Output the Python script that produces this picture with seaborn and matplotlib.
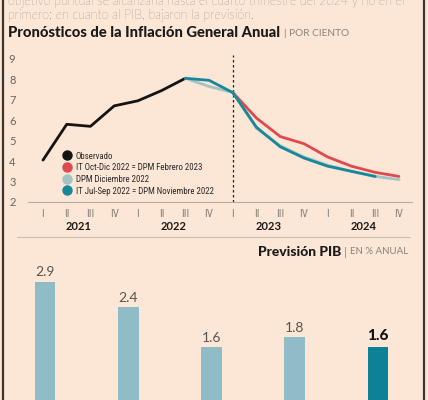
import matplotlib
matplotlib.use("Agg")
import numpy as np
import pandas as pd
import seaborn as sns
from matplotlib import pyplot as plt
from matplotlib import font_manager
from matplotlib.font_manager import FontProperties
from matplotlib.lines import Line2D


QUARTERS = ["I", "II", "III", "IV"] * 4
YEARS = ["2021", "2022", "2023", "2024"]

OBSERVADO = [4.05, 5.8, 5.7, 6.7, 6.95, 7.45, 8.05]
IT_OCT_DIC = [7.35, 6.1, 5.2, 4.85, 4.2, 3.75, 3.45, 3.25]
DPM_DIC = [8.05, 7.65, 7.35, 5.6, 4.75, 4.2, 3.8, 3.5, 3.25, 3.1]
IT_JUL_SEP = [8.05, 7.95, 7.35, 5.65, 4.7, 4.15, 3.75, 3.5, 3.25]

SERIES = [
    ("Observado", 0, OBSERVADO, "#141414"),
    ("IT Oct-Dic 2022 = DPM Febrero 2023", 8, IT_OCT_DIC, "#e04a4e"),
    ("DPM Diciembre 2022", 6, DPM_DIC, "#a3c3c4"),
    ("IT Jul-Sep 2022 = DPM Noviembre 2022", 6, IT_JUL_SEP, "#17879a"),
]

PIB_VALUES = [2.9, 2.4, 1.6, 1.8, 1.6]
PIB_LABELS = ["2.9", "2.4", "1.6", "1.8", "1.6"]
PIB_COLORS = ["#8fbcc6", "#8fbcc6", "#8fbcc6", "#8fbcc6", "#0d8196"]

BG = "#fce6d5"
GREY_TXT = "#6a6560"


def pick(*names):
    have = {f.name for f in font_manager.fontManager.ttflist}
    for n in names:
        if n in have:
            return n
    return "DejaVu Sans"


def narrow_props(size):
    # look for any condensed face among the installed fonts
    order = ["Roboto", "Noto Sans", "Open Sans", "DejaVu Sans", "Liberation Sans Narrow"]
    cands = []
    for f in font_manager.fontManager.ttflist:
        st = str(f.stretch).lower()
        cond = st in ("condensed", "semi-condensed", "extra-condensed") or (
            isinstance(f.stretch, int) and f.stretch < 500) or "Narrow" in f.name or "Condensed" in f.name
        if cond and f.style == "normal" and f.weight in (400, "normal", "regular"):
            rank = next((i for i, n in enumerate(order) if f.name.startswith(n)), len(order))
            cands.append((rank, f.fname))
    if cands:
        cands.sort()
        return FontProperties(fname=cands[0][1], size=size)
    return FontProperties(family=pick("Roboto", "DejaVu Sans"), size=size)


def main():
    sns.set_theme(style="white")
    plt.rcParams.update({"figure.facecolor": BG, "axes.facecolor": "none", "savefig.facecolor": BG})
    body = pick("Lato", "Open Sans")
    plt.rcParams["font.family"] = [body, "DejaVu Sans"]

    fig = plt.figure(figsize=(4.28, 4.0), dpi=100)
    W, H = 428.0, 400.0

    def fx(px):
        return px / W

    def fy(py):
        return 1 - py / H

    # top body text (cut by the crop, as in the source)
    fig.text(fx(8), fy(1.5), "objetivo puntual se alcanzaría hasta el cuarto trimestre del 2024 y no en el",
             fontsize=9.0, color="#46413c", va="center", ha="left", fontweight="light")
    fig.text(fx(8), fy(15), "primero; en cuanto al PIB, bajaron la previsión.",
             fontsize=9.0, color="#46413c", va="center", ha="left", fontweight="light")

    # title
    t = fig.text(fx(8), fy(33), "Pronósticos de la Inflación General Anual",
                 fontsize=10.6, fontweight="black", color="#1a1a1a", va="center", ha="left")
    fig.canvas.draw()
    bb = t.get_window_extent()
    fig.text(bb.x1 / W + fx(4), fy(33), "| POR CIENTO", fontsize=7.3, color="#8a837c",
             va="center", ha="left")

    # line chart
    rows = []
    for name, start, vals, _ in SERIES:
        for i, v in enumerate(vals):
            rows.append({"serie": name, "t": start + i, "valor": v})
    df = pd.DataFrame(rows)
    palette = {name: c for name, _, _, c in SERIES}

    ax = fig.add_axes([fx(28), fy(202), fx(412) - fx(28), (202 - 55) / H])
    ax.axvline(8, color="#222222", lw=0.9, ls=(0, (2, 2)), zorder=1)
    sns.lineplot(df, x="t", y="valor", hue="serie", hue_order=[s[0] for s in SERIES],
                 palette=palette, linewidth=2.0, legend=False, ax=ax, zorder=3)
    ax.set_xlim((28 - 43) / 23.73, (412 - 43) / 23.73)
    ax.set_ylim(2, 2 + (202 - 55) / 20.45)
    ax.set_yticks(range(2, 10))
    ax.set_yticklabels([str(v) for v in range(2, 10)])
    ax.set_xticks(range(len(QUARTERS)))
    ax.set_xticklabels(QUARTERS)
    ax.tick_params(axis="both", length=0, colors=GREY_TXT, labelsize=8)
    ax.tick_params(axis="y", pad=9)
    ax.tick_params(axis="x", pad=5)
    tick_fp = narrow_props(8)
    for lbl in ax.get_xticklabels():
        lbl.set_fontproperties(tick_fp)
        lbl.set_color("#8a837c")
    for s in ["top", "right", "left"]:
        ax.spines[s].set_visible(False)
    ax.spines["bottom"].set_color("#b5aca3")
    ax.spines["bottom"].set_linewidth(0.8)
    ax.set_xlabel("")
    ax.set_ylabel("")
    for k, yr in enumerate(YEARS):
        ax.text(4 * k + 1.5, -0.17, yr, transform=ax.get_xaxis_transform(), ha="center", va="center",
                fontsize=8, fontweight="bold", color="#1a1a1a")

    handles = [Line2D([], [], marker="o", ls="none", color=c, markersize=6.5) for _, _, _, c in SERIES]
    leg = ax.legend(handles, [s[0] for s in SERIES], loc="lower left", bbox_to_anchor=(0.068, 0.02),
                    frameon=False, handletextpad=0.05, labelspacing=0.3, borderaxespad=0,
                    prop=narrow_props(6.4))
    for txt in leg.get_texts():
        txt.set_color("#2a2a2a")

    # separator
    fig.add_artist(Line2D([fx(17), fx(410)], [fy(237), fy(237)], color="#c9bfb5", lw=0.8))

    # bar chart header
    u = fig.text(fx(408), fy(252), "EN % ANUAL", fontsize=7.0, color="#8a837c", va="center", ha="right")
    fig.canvas.draw()
    b1 = u.get_window_extent()
    p = fig.text(b1.x0 / W - fx(3), fy(252), "|", fontsize=8, color="#8a837c", va="center", ha="right")
    fig.canvas.draw()
    b2 = p.get_window_extent()
    fig.text(b2.x0 / W - fx(3), fy(252), "Previsión PIB", fontsize=10.0, fontweight="black",
             color="#1a1a1a", va="center", ha="right")

    # bar chart
    bdf = pd.DataFrame({"k": list(range(len(PIB_VALUES))), "v": PIB_VALUES})
    bx = fig.add_axes([0, 0, 1, 160 / H])
    sns.barplot(bdf, x="k", y="v", hue="k", palette=PIB_COLORS, width=0.25, legend=False,
                ax=bx, saturation=1, linewidth=0)
    bx.set_xlim(-45 / 83.25, (428 - 45) / 83.25)
    bx.set_ylim(1.6 - 53 / 50, 1.6 + 107 / 50)
    bx.axis("off")
    for i, (v, lab) in enumerate(zip(PIB_VALUES, PIB_LABELS)):
        last = i == len(PIB_VALUES) - 1
        bx.text(i, v + 0.07, lab, ha="center", va="bottom", fontsize=11 if last else 10,
                fontweight="black" if last else "normal", color="#111111" if last else "#5a5550")

    # frame borders
    for xpx in (3, 424):
        fig.add_artist(Line2D([fx(xpx), fx(xpx)], [0, 1], color="#3b3631", lw=1.6))

    fig.savefig("out.png", dpi=100)


if __name__ == "__main__":
    main()
